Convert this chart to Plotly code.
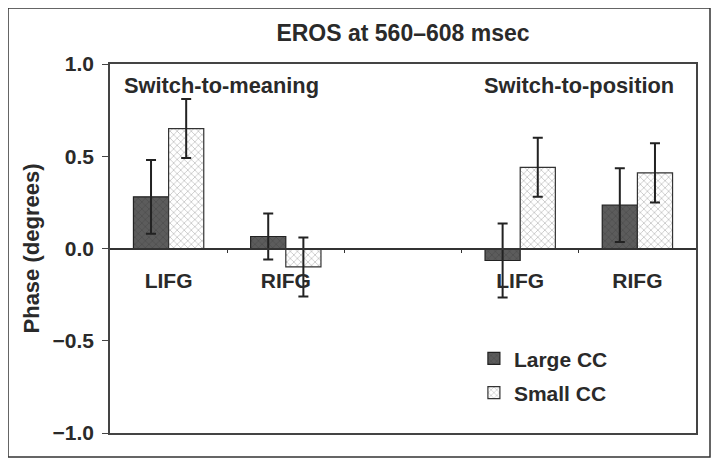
import plotly.graph_objects as go

# ---- data ----
categories = ["LIFG", "RIFG", "", "LIFG", "RIFG"]
large_cc = [0.28, 0.065, None, -0.065, 0.235]
large_err = [0.20, 0.125, None, 0.20, 0.20]
small_cc = [0.65, -0.10, None, 0.44, 0.41]
small_err = [0.16, 0.16, None, 0.16, 0.16]
series_names = ["Large CC", "Small CC"]
group_labels = ["Switch-to-meaning", "Switch-to-position"]
y_ticks = [-1.0, -0.5, 0.0, 0.5, 1.0]
title_text = "EROS at 560\u2013608 msec"

xpos = list(range(len(categories)))
label_pos = [i for i, c in enumerate(categories) if c]
label_txt = [c for c in categories if c]
bounds = [i + 0.5 for i in xpos[:-1]]

FONT = "Liberation Sans, Arial, sans-serif"
INK = "#2a2a2a"


def f(size):
    return dict(size=size, family=FONT, color=INK, weight="bold")


fig = go.Figure()
fig.add_trace(go.Bar(
    x=xpos, y=large_cc, name=series_names[0],
    marker=dict(color="#5a5a5a", line=dict(color="#222", width=1.2),
                pattern=dict(shape="x", fgcolor="#3c3c3c", bgcolor="#5c5c5c", size=5, solidity=0.25)),
    error_y=dict(type="data", array=large_err, color="#222", thickness=2, width=5),
    legendgroup="a",
))
fig.add_trace(go.Bar(
    x=xpos, y=small_cc, name=series_names[1],
    marker=dict(color="#ffffff", line=dict(color="#333", width=1.2),
                pattern=dict(shape="x", fgcolor="#8c8c8c", bgcolor="#ffffff", size=5, solidity=0.3)),
    error_y=dict(type="data", array=small_err, color="#222", thickness=2, width=5),
    legendgroup="b",
))

# page body adds an 8px offset; figure coordinates below are viewport - 8
L, R, T, B = 102, 32, 56, 43
W, H = 720, 468
pw, ph = W - L - R, H - T - B

fig.update_layout(
    width=W, height=H,
    margin=dict(l=L, r=R, t=T, b=B, autoexpand=False),
    paper_bgcolor="white", plot_bgcolor="white",
    barmode="group", bargap=0.4, bargroupgap=0,
    font=f(20),
    title=dict(text=title_text, x=(L + pw / 2) / W, xanchor="center",
               y=1 - 25 / H, yanchor="middle", font=f(23)),
    showlegend=True,
    legend=dict(x=0.621, y=0.257, xanchor="left", yanchor="top", bgcolor="rgba(0,0,0,0)",
                font=f(21), traceorder="grouped", tracegroupgap=4, itemwidth=30),
    xaxis=dict(range=[-0.5, len(categories) - 0.5], showline=True, linecolor="#444", linewidth=1.5,
               mirror=True, showticklabels=False, ticks="", showgrid=False, zeroline=False),
    xaxis2=dict(range=[-0.5, len(categories) - 0.5], overlaying="x", anchor="free", position=0.5,
                showline=True, linecolor="#333", linewidth=1.5, showgrid=False, zeroline=False,
                tickmode="array", tickvals=label_pos, ticktext=label_txt,
                ticks="", ticklabelstandoff=14, tickfont=f(21), side="bottom",
                minor=dict(tickmode="array", tickvals=bounds, ticks="outside", ticklen=4,
                           tickcolor="#333", tickwidth=1)),
    yaxis=dict(range=[-1.0, 1.0], tickmode="array", tickvals=y_ticks,
               ticktext=[f"{v:.1f}".replace("-", "\u2212") for v in y_ticks],
               ticks="outside", ticklen=6, tickcolor="#444", showline=True, linecolor="#444",
               linewidth=1.5, mirror=True, showgrid=False, zeroline=False,
               tickfont=f(21), ticklabelstandoff=4,
               title=dict(text="Phase (degrees)", font=f(22), standoff=7)),
)

# invisible trace to activate xaxis2
fig.add_trace(go.Scatter(x=[xpos[0]], y=[None], xaxis="x2", showlegend=False, hoverinfo="skip"))

# group annotations
fig.add_annotation(text=group_labels[0], xref="paper", yref="paper",
                   x=(114 - L) / pw, y=(H - B - 77) / ph, xanchor="left", yanchor="middle",
                   showarrow=False, font=f(21.8))
fig.add_annotation(text=group_labels[1], xref="paper", yref="paper",
                   x=(668 - L) / pw, y=(H - B - 77) / ph, xanchor="right", yanchor="middle",
                   showarrow=False, font=f(21.8))

# outer frame
fig.add_shape(type="rect", xref="paper", yref="paper",
              x0=(0 - L) / pw, x1=(702 - L) / pw, y0=(H - B - 449) / ph, y1=(H - B - 0) / ph,
              line=dict(color="#333", width=1.5), fillcolor="rgba(0,0,0,0)")

fig.write_html("out.html")
